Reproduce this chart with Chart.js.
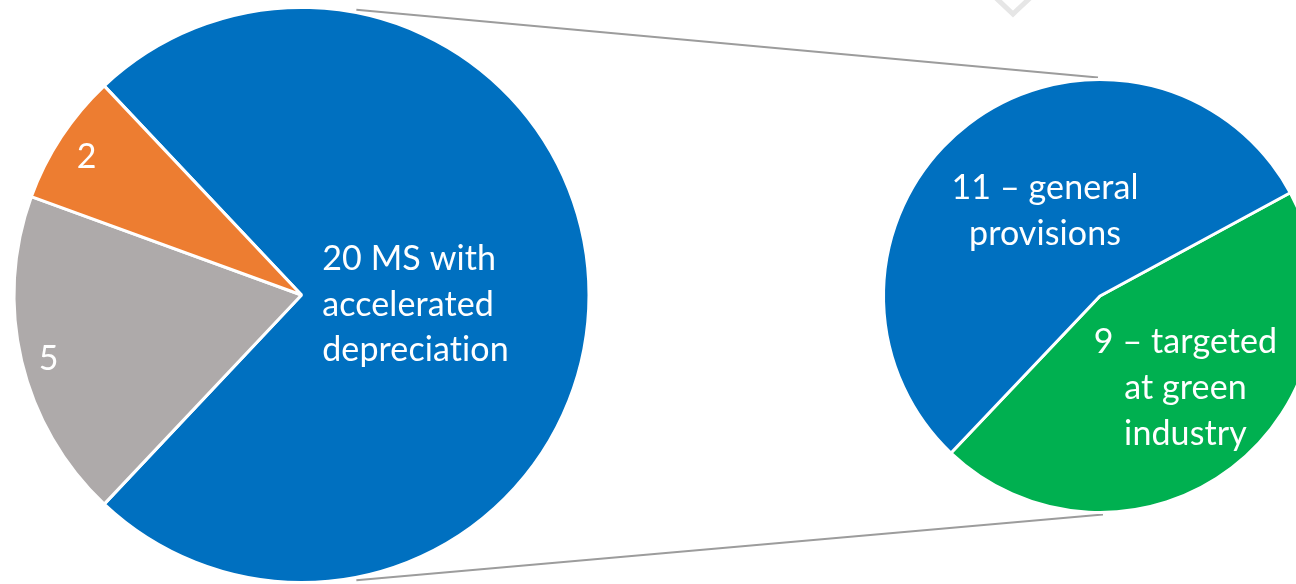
<!DOCTYPE html>
<html><head><meta charset="utf-8">
<script src="https://cdn.jsdelivr.net/npm/chart.js@4.4.1/dist/chart.umd.min.js"></script>
<style>
html,body{margin:0;padding:0;background:#fff;overflow:hidden;width:1296px;height:584px;}
#wrap{position:relative;width:1296px;height:584px;overflow:hidden;}
.c{position:absolute;left:0;top:0;height:584px;}
svg{position:absolute;left:0;top:0;}
</style></head><body>
<div id="wrap">
<svg width="1296" height="30"><polyline points="996,-2 1013,14 1030,-2" fill="none" stroke="#e6e6e6" stroke-width="5"/></svg>
<div class="c" style="width:1296px"><canvas id="main"></canvas></div>
<div class="c" style="width:1400px"><canvas id="second"></canvas></div>
</div>
<script>
// ---- data ----
const mainCategories = ['20 MS with accelerated depreciation', '5', '2'];
const mainValues = [20, 5, 2];
const mainLabelLines = [['20 MS with', 'accelerated', 'depreciation'], ['5'], ['2']];
const mainColors = ['#0070C0', '#AEAAAA', '#ED7D31'];

const secondCategories = ['9 – targeted at green industry', '11 – general provisions'];
const secondValues = [9, 11];
const secondLabelLines = [['9 – targeted', 'at green', 'industry'], ['11 – general', 'provisions']];
const secondColors = ['#00B050', '#0070C0'];

const FONT = '34px Lato, "Open Sans", sans-serif';

const labelPlugin = {
  id: 'sliceLabels',
  afterDatasetsDraw(chart, args, opts) {
    const meta = chart.getDatasetMeta(0);
    const ctx = chart.ctx;
    ctx.save();
    ctx.fillStyle = '#ffffff';
    ctx.font = opts.font;
    try { ctx.letterSpacing = '0.1px'; } catch (e) {}
    ctx.textBaseline = 'middle';
    meta.data.forEach((arc, i) => {
      const p = arc.getProps(['x', 'y', 'startAngle', 'endAngle', 'outerRadius'], true);
      const mid = (p.startAngle + p.endAngle) / 2;
      const s = opts.items[i];
      const px = p.x + Math.cos(mid) * p.outerRadius * s.r + s.dx;
      const py = p.y + Math.sin(mid) * p.outerRadius * s.r + s.dy;
      ctx.textAlign = s.align;
      const lines = opts.lines[i];
      lines.forEach((ln, j) => ctx.fillText(ln, px, py + (j - (lines.length - 1) / 2) * opts.lineHeight));
    });
    ctx.restore();
  }
};

const mainSum = mainValues.reduce((a, b) => a + b, 0);
const mainChart = new Chart(document.getElementById('main'), {
  type: 'pie',
  data: { labels: mainCategories, datasets: [{ data: mainValues, backgroundColor: mainColors, borderColor: '#ffffff', borderWidth: 3 }] },
  options: {
    responsive: true, maintainAspectRatio: false, animation: false,
    rotation: 90 - mainValues[0] / mainSum * 180,
    layout: { padding: { left: 11, top: 6, right: 1296 - 11 - 581, bottom: 584 - 6 - 581 } },
    plugins: {
      legend: { display: false }, tooltip: { enabled: false },
      sliceLabels: {
        font: FONT, lineHeight: 45.5, lines: mainLabelLines,
        items: [
          { r: 0.072, dx: 0, dy: 10, align: 'left' },
          { r: 0.9, dx: -1, dy: 4, align: 'center' },
          { r: 0.89, dx: -1, dy: 3, align: 'center' }
        ]
      }
    }
  },
  plugins: [labelPlugin]
});

const connectorPlugin = {
  id: 'connectors',
  beforeDatasetsDraw(chart) {
    const a = mainChart.getDatasetMeta(0).data[0].getProps(['x', 'y', 'outerRadius'], true);
    const b = chart.getDatasetMeta(0).data[0].getProps(['x', 'y', 'outerRadius'], true);
    const th = 11 * Math.PI / 180;
    const ctx = chart.ctx;
    ctx.save();
    ctx.strokeStyle = '#9c9c9c';
    ctx.lineWidth = 2;
    ctx.beginPath();
    ctx.moveTo(a.x + a.outerRadius * Math.sin(th), a.y - a.outerRadius * Math.cos(th) - 3);
    ctx.lineTo(b.x - 2, b.y - b.outerRadius - 2);
    ctx.moveTo(a.x + a.outerRadius * Math.sin(th), a.y + a.outerRadius * Math.cos(th) + 3);
    ctx.lineTo(b.x + 3, b.y + b.outerRadius + 2);
    ctx.stroke();
    ctx.restore();
  }
};

new Chart(document.getElementById('second'), {
  type: 'pie',
  data: { labels: secondCategories, datasets: [{ data: secondValues, backgroundColor: secondColors, borderColor: '#ffffff', borderWidth: 3 }] },
  options: {
    responsive: true, maintainAspectRatio: false, animation: false,
    rotation: 61.5,
    layout: { padding: { left: 882, top: 78, right: 1400 - 882 - 436, bottom: 584 - 78 - 436 } },
    plugins: {
      legend: { display: false }, tooltip: { enabled: false },
      sliceLabels: {
        font: FONT, lineHeight: 46, lines: secondLabelLines,
        items: [
          { r: 0.55, dx: 13, dy: -2, align: 'center' },
          { r: 0.47, dx: 7, dy: -4, align: 'center' }
        ]
      }
    }
  },
  plugins: [connectorPlugin, labelPlugin]
});
</script>
</body></html>
